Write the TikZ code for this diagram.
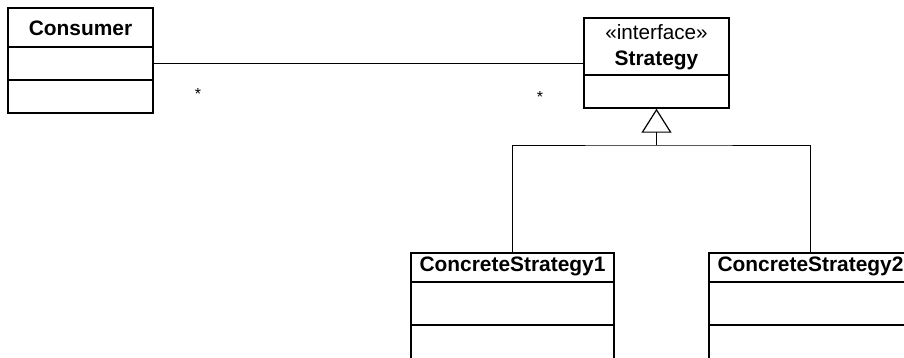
\documentclass[tikz,border=0pt]{standalone}
\usepackage{fontspec}
\setmainfont{Liberation Sans}
\usetikzlibrary{arrows.meta}
\begin{document}
\begin{tikzpicture}[x=1pt,y=1pt,
  classbox/.style={draw,line width=1.4pt,rectangle,inner sep=0pt},
  divider/.style={line width=1.4pt},
  conn/.style={line width=1pt},
  lbl/.style={anchor=base,inner sep=0pt,font=\fontsize{20.9pt}{24pt}\selectfont\bfseries},
  stereo/.style={anchor=base,inner sep=0pt,font=\fontsize{20.7pt}{24pt}\selectfont},
  mult/.style={inner sep=0pt,font=\fontsize{16pt}{18pt}\selectfont}]
\useasboundingbox (0,0) rectangle (904,-357);
\clip (0,0) rectangle (904,-357);
% Consumer
\node[classbox,minimum width=145pt,minimum height=105pt] (cons) at (80.5,-60.5) {};
\draw[divider] (8,-47) -- (153,-47);
\draw[divider] (8,-80) -- (153,-80);
\node[lbl] (consT) at (80.5,-35) {Consumer};
% Strategy
\node[classbox,minimum width=145pt,minimum height=90pt] (strat) at (656.5,-63) {};
\draw[divider] (584,-75) -- (729,-75);
\node[stereo] (stratS) at (656.5,-39.3) {«interface»};
\node[lbl] (stratT) at (656.5,-65.5) {Strategy};
% ConcreteStrategy1
\node[classbox,minimum width=203pt,minimum height=137pt] (cs1) at (512.5,-321.5) {};
\draw[divider] (411,-282) -- (614,-282);
\draw[divider] (411,-325) -- (614,-325);
\node[lbl] (cs1T) at (512.5,-271.7) {ConcreteStrategy1};
% ConcreteStrategy2
\node[classbox,minimum width=203pt,minimum height=137pt] (cs2) at (810.5,-321.5) {};
\draw[divider] (709,-282) -- (912,-282);
\draw[divider] (709,-325) -- (912,-325);
\node[lbl] (cs2T) at (810.5,-271.7) {ConcreteStrategy2};
% association
\draw[conn] (strat.west) -- (strat.west -| cons.east);
\node[mult] (m1) at (198,-94) {*};
\node[mult] (m2) at (540,-97) {*};
% generalization
\coordinate (join) at (656.5,-145);
\draw[conn] (cs1.north) |- (join) -| (cs2.north);
\draw[conn,-{Triangle[open,width=30pt,length=24pt,line width=1.2pt]}] (join) -- (strat.south);
\end{tikzpicture}
\end{document}
